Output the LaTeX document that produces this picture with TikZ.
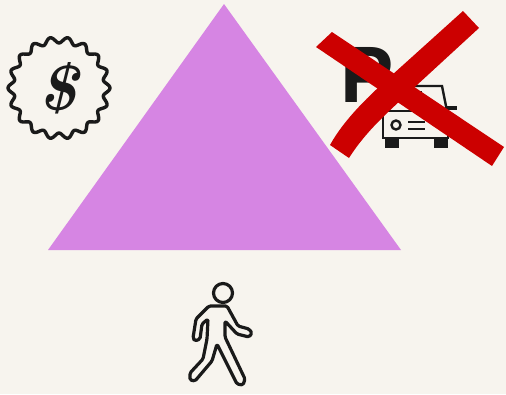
\documentclass[tikz,border=0pt]{standalone}
\usepackage{fontspec}
\newfontfamily\signfont{Liberation Sans}
\usepackage{xcolor}
\definecolor{paper}{HTML}{F7F4EE}
\definecolor{lilac}{HTML}{D685E3}
\definecolor{crossred}{HTML}{CC0000}
\definecolor{ink}{HTML}{1A1A1A}
\tikzset{
  iconline/.style={draw=ink, line width=3.2pt, line join=round, line cap=round},
  carline/.style={draw=ink, line width=2.4pt, line join=miter},
}

\begin{document}
\begin{tikzpicture}[x=1pt, y=-1pt]
    % Fundo
    \fill[paper] (0,0) rectangle (506,394);
    \useasboundingbox (0,0) rectangle (506,394);
    % Triangulo
    \fill[lilac] (224,4) -- (401,250) -- (48,250) -- cycle;
    % Selo com cifrao
    \draw[line width=3.4pt, draw=ink, line join=round] plot[domain=0:360, samples=217, smooth]
      ({59+(48+3*cos(18*\x))*cos(\x)}, {88+(48+3*cos(18*\x))*sin(\x)}) -- cycle;
    \node[font=\fontsize{64}{64}\selectfont\bfseries\itshape, text=ink, inner sep=0pt] (dollar) at (58,88) {\$};
    % Placa P
    \node[font=\fontsize{80}{80}\selectfont\signfont\bfseries, text=ink, inner sep=0pt] (parking) at (367,75) {P};
    % Carro
    \draw[carline, fill=paper] (383,111) rectangle (448,138);
    \draw[carline] (385,111) -- (392,86) -- (442,86) -- (447,111);
    \fill[ink] (447,106) rectangle (457,110); % espelho
    \fill[ink] (385,138) rectangle (399,148);
    \fill[ink] (434,138) rectangle (448,148);
    \draw[carline] (396,125) circle (4.5);
    \draw[carline] (408,122) -- (425,122);
    \draw[carline] (408,129) -- (425,129);
    \draw[carline] (414,92) -- (422,92);
    % Pedestre
    \draw[iconline] (223,293) circle (9.5);
    \draw[iconline, rounded corners=1.5pt] (196,319) -- (209,306) -- (227,306) -- (238,326) -- (249,329)
      -- (252,333) -- (249,337) -- (237,334) -- (225,321) -- (225,337) -- (245,379)
      -- (243,385) -- (237,384) -- (217,344) -- (212,361) -- (195,381) -- (190,380)
      -- (190,373) -- (203,359) -- (207,339) -- (208,319) -- (202,324) -- (200,339)
      -- (195,341) -- (193,338) -- cycle;
    % Cruz vermelha
    \fill[crossred] (332,32) -- (504,147) -- (492,166) -- (316,47) -- cycle;
    \fill[crossred] (463,11) -- (479,28) -- (417,85) .. controls (393,108) and (368,128) .. (349,158)
      -- (330,145) .. controls (345,118) and (370,95) .. (392,75) -- cycle;
\end{tikzpicture}
\end{document}
